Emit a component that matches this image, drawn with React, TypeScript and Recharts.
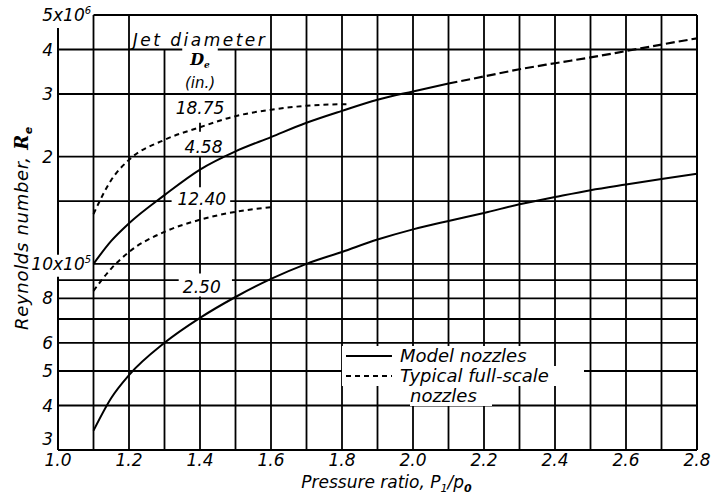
import { LineChart, Line, XAxis, YAxis, ReferenceLine, ReferenceDot, Legend } from 'recharts';

// pressure ratio P1/p0 along each curve, Reynolds number
const model250P = [1.1, 1.15, 1.2, 1.3, 1.4, 1.5, 1.6, 1.7, 1.8, 1.9, 2.0, 2.1, 2.2, 2.3, 2.4, 2.5, 2.6, 2.7, 2.8];
const model250R = [3.4e5, 4.2e5, 4.87e5, 6.0e5, 7.05e5, 8.07e5, 9.07e5, 1.0e6, 1.08e6, 1.17e6, 1.25e6, 1.32e6, 1.39e6, 1.47e6, 1.54e6, 1.61e6, 1.67e6, 1.73e6, 1.79e6];

const model458P = [1.1, 1.15, 1.2, 1.3, 1.4, 1.5, 1.6, 1.7, 1.8, 1.9, 2.0, 2.1];
const model458R = [1.0e6, 1.16e6, 1.3e6, 1.56e6, 1.84e6, 2.07e6, 2.27e6, 2.49e6, 2.69e6, 2.89e6, 3.05e6, 3.21e6];

// extrapolated end of the 4.58 in. curve
const extra458P = [2.1, 2.2, 2.3, 2.4, 2.5, 2.6, 2.7, 2.8];
const extra458R = [3.21e6, 3.36e6, 3.52e6, 3.66e6, 3.8e6, 3.96e6, 4.13e6, 4.3e6];

const full1875P = [1.1, 1.15, 1.2, 1.3, 1.4, 1.5, 1.6, 1.7, 1.82];
const full1875R = [1.38e6, 1.72e6, 1.96e6, 2.23e6, 2.42e6, 2.6e6, 2.71e6, 2.78e6, 2.81e6];

const full1240P = [1.1, 1.15, 1.2, 1.3, 1.4, 1.5, 1.61];
const full1240R = [8.4e5, 9.7e5, 1.08e6, 1.23e6, 1.33e6, 1.4e6, 1.445e6];

const xTicks = [1.0, 1.2, 1.4, 1.6, 1.8, 2.0, 2.2, 2.4, 2.6, 2.8];
const yTicks = [3e5, 4e5, 5e5, 6e5, 7e5, 8e5, 1e6, 2e6, 3e6, 4e6, 5e6];
const yTickLead = ['3', '4', '5', '6', '7', '8', '10', '2', '3', '4', '5'];
const yTickPow = ['', '', '', '', '', '', '5', '', '', '', '6'];

const xGrid = [1.0, 1.1, 1.2, 1.3, 1.4, 1.5, 1.6, 1.7, 1.8, 1.9, 2.0, 2.1, 2.2, 2.3, 2.4, 2.5, 2.6, 2.7, 2.8];
const yGrid = [3e5, 4e5, 5e5, 6e5, 7e5, 8e5, 9e5, 1e6, 1.5e6, 2e6, 3e6, 4e6, 5e6];

// curve labels, all sitting on the 1.4 line
const tagText = ['18.75', '4.58', '12.40', '2.50'];
const tagP = [1.4, 1.41, 1.405, 1.405];
const tagR = [2.74e6, 2.13e6, 1.52e6, 8.6e5];

// grid lines that are broken where lettering sits on them
const xBreaks = new Map<number, number[][]>([
  [1.0, [[3e5, 9.2e5], [1.06e6, 4.6e6]]],
  [1.3, [[3e5, 4e6]]],
  [1.4, [[3e5, 8.1e5], [9.4e5, 1.42e6], [1.64e6, 2.0e6], [2.35e6, 2.49e6]]],
  [1.5, [[3e5, 4e6]]],
]);
const yBreaks = new Map<number, number[][]>([
  [5e6, [[1.1, 2.8]]],
  [4e6, [[1.0, 1.35], [1.45, 2.8]]],
  [1.5e6, [[1.0, 1.32], [1.485, 2.8]]],
  [1e6, [[1.1, 2.8]]],
  [9e5, [[1.0, 1.34], [1.49, 2.8]]],
]);

const pts = (ps: number[], rs: number[]) => ps.map((p, i) => ({ p, r: rs[i] }));

const FONT = '"DejaVu Sans", sans-serif';
const txt = { fontFamily: FONT, fontStyle: 'italic' as const, fill: '#000' };

function YTick({ x, y, payload }: any) {
  const i = yTicks.indexOf(payload.value);
  const yy = payload.value === 3e5 ? y - 11 : y;
  return (
    <g>
      <text x={x - 1} y={yy} dy="0.36em" textAnchor="end" fontSize={17} {...txt}>{yTickLead[i]}</text>
      {yTickPow[i] && (
        <text x={x - 1} y={yy} dy="0.36em" textAnchor="start" fontSize={17} {...txt}>
          x10<tspan dy={-7} fontSize={10}>{yTickPow[i]}</tspan>
        </text>
      )}
    </g>
  );
}

const XTitle = ({ viewBox }: any) => (
  <text x={viewBox.x + viewBox.width / 2 + 9} y={viewBox.y + 38} textAnchor="middle" fontSize={17} {...txt}>
    Pressure ratio, P<tspan dy={4} fontSize={11}>1</tspan><tspan dy={-4}>/p</tspan>
    <tspan dy={4} fontSize={11} fontWeight="bold">0</tspan>
  </text>
);

const YTitle = () => (
  <text x={28} y={228} transform="rotate(-90, 28, 228)" textAnchor="middle" fontSize={18} letterSpacing={0.7} {...txt}>
    Reynolds number, <tspan fontFamily='"DejaVu Serif", serif' fontWeight="bold">R</tspan>
    <tspan dy={4} fontSize={11} fontWeight="bold">e</tspan>
  </text>
);

const note = (s: string, size = 17, extra: any = {}) => (p: any) => (
  <text x={p.cx} y={p.cy} dy="0.36em" textAnchor="middle" fontSize={size} {...txt} {...extra}>{s}</text>
);

const DeLabel = (p: any) => (
  <text x={p.cx} y={p.cy} dy="0.36em" textAnchor="middle" fontSize={16} fontFamily='"DejaVu Serif", serif' fontStyle="italic" fontWeight="bold">
    D<tspan dy={3} fontSize={9}>e</tspan>
  </text>
);

const row = { display: 'flex', alignItems: 'center', background: '#fff', height: 20 };

const LegendBox = () => (
  <div style={{ fontFamily: FONT, fontStyle: 'italic', fontSize: 18, lineHeight: '20px', color: '#000' }}>
    <div style={{ ...row, width: 210 }}>
      <svg width={52} height={10}><line x1={4} y1={5} x2={50} y2={5} stroke="#000" strokeWidth={2} /></svg>
      <span style={{ marginLeft: 6 }}>Model nozzles</span>
    </div>
    <div style={{ ...row, width: 242 }}>
      <svg width={52} height={10}><line x1={4} y1={5} x2={50} y2={5} stroke="#000" strokeWidth={2} strokeDasharray="5 4" /></svg>
      <span style={{ marginLeft: 6 }}>Typical full-scale</span>
    </div>
    <div style={{ ...row, marginLeft: 68, width: 82 }}>nozzles</div>
  </div>
);

export default function App() {
  return (
    <>
      <style>{'body{margin:0}'}</style>
      <LineChart width={718} height={498} margin={{ top: 15, right: 21, bottom: 0, left: 0 }}>
        {xGrid.map((x) =>
          (xBreaks.get(x) ?? [[3e5, 5e6]]).map(([a, b], k) => (
            <ReferenceLine key={`v${x}-${k}`} ifOverflow="visible" segment={[{ x, y: a }, { x, y: b }]}
              stroke="#000" strokeWidth={x === 1.0 || x === 2.8 ? 2 : 1.8} />
          ))
        )}
        {yGrid.map((y) =>
          (yBreaks.get(y) ?? [[1.0, 2.8]]).map(([a, b], k) => (
            <ReferenceLine key={`h${y}-${k}`} ifOverflow="visible" segment={[{ x: a, y }, { x: b, y }]}
              stroke="#000" strokeWidth={y === 3e5 || y === 5e6 ? 2 : 1.8} />
          ))
        )}
        <XAxis dataKey="p" type="number" domain={[1.0, 2.8]} ticks={xTicks} allowDataOverflow
          axisLine={false} tickLine={false} tickSize={0} tickMargin={4} height={48}
          tickFormatter={(v: number) => v.toFixed(1)} tick={{ fontSize: 17, ...txt }}
          label={<XTitle />} />
        <YAxis dataKey="r" type="number" scale="log" domain={[3e5, 5e6]} ticks={yTicks} allowDataOverflow
          axisLine={false} tickLine={false} tickSize={0} tickMargin={4} width={58} tick={<YTick />} />
        <Line data={pts(model250P, model250R)} dataKey="r" type="monotone" stroke="#000" strokeWidth={2} dot={false} activeDot={false} isAnimationActive={false} legendType="none" />
        <Line data={pts(model458P, model458R)} dataKey="r" type="monotone" stroke="#000" strokeWidth={2} dot={false} activeDot={false} isAnimationActive={false} legendType="none" />
        <Line data={pts(extra458P, extra458R)} dataKey="r" type="monotone" stroke="#000" strokeWidth={2.2} strokeDasharray="9 4" dot={false} activeDot={false} isAnimationActive={false} legendType="none" />
        <Line data={pts(full1875P, full1875R)} dataKey="r" type="monotone" stroke="#000" strokeWidth={2} strokeDasharray="5 4" dot={false} activeDot={false} isAnimationActive={false} legendType="none" />
        <Line data={pts(full1240P, full1240R)} dataKey="r" type="monotone" stroke="#000" strokeWidth={2} strokeDasharray="5 4" dot={false} activeDot={false} isAnimationActive={false} legendType="none" />
        {tagText.map((s, i) => (
          <ReferenceDot key={s} x={tagP[i]} y={tagR[i]} r={0} ifOverflow="visible" shape={note(s)} />
        ))}
        <ReferenceDot x={1.4} y={4.25e6} r={0} ifOverflow="visible" shape={note('Jet diameter', 17, { letterSpacing: 2.5 })} />
        <ReferenceDot x={1.4} y={3.76e6} r={0} ifOverflow="visible" shape={DeLabel} />
        <ReferenceDot x={1.4} y={3.22e6} r={0} ifOverflow="visible" shape={note('(in.)', 15)} />
        <Legend layout="vertical" align="center" verticalAlign="middle" content={() => <LegendBox />}
          wrapperStyle={{ left: 342, top: 346, width: 245 }} />
        <YTitle />
      </LineChart>
    </>
  );
}
